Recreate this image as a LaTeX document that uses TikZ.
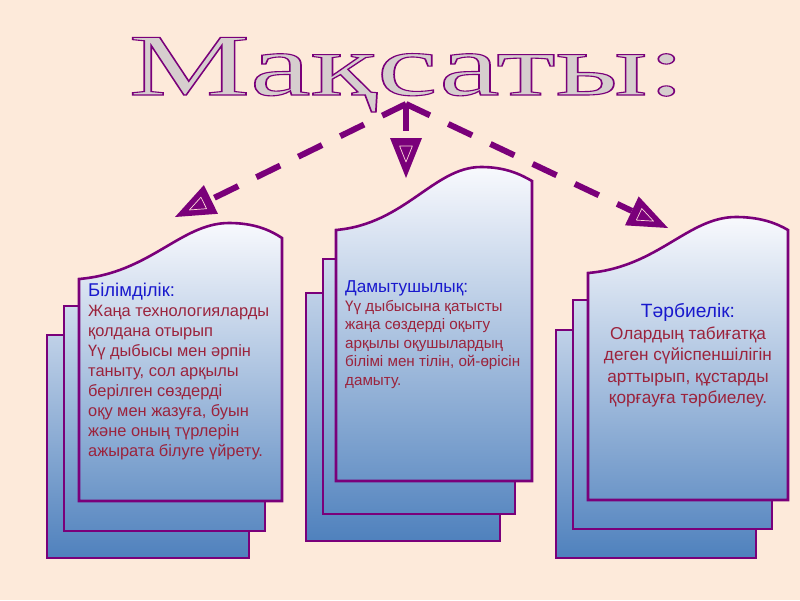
\documentclass[tikz,border=0pt]{standalone}
\usepackage{fontspec}
\usepackage{graphicx}
\setmainfont{Liberation Sans}
\newfontfamily\titlefont{Liberation Serif}
\usetikzlibrary{calc}
\definecolor{bg}{RGB}{253,234,218}
\definecolor{purp}{RGB}{122,0,122}
\definecolor{cardtop}{RGB}{248,249,253}
\definecolor{cardbot}{RGB}{79,129,189}
\definecolor{headblue}{RGB}{25,25,205}
\definecolor{bodyred}{RGB}{155,35,60}
\definecolor{titlefill}{RGB}{214,206,206}
\newcommand\outlinetext[1]{\special{pdf:literal direct 2 Tr 1.1 w 0.478 0 0.478 RG}#1\special{pdf:literal direct 0 Tr}}
\newcommand\hdr[2]{{\fontsize{#1}{10}\selectfont\textcolor{headblue}{#2}}}
\begin{document}
\begin{tikzpicture}[x=1pt,y=-1pt,
  cardline/.style={draw=purp,line width=2.6pt,line join=miter},
  dasharrow/.style={draw=purp,line width=6pt,dash pattern=on 26.5pt off 20.2pt},
  headfill/.style={fill=purp},
  headinner/.style={draw=pink!60!white,line width=0.7pt,line join=round},
  titlestyle/.style={inner sep=0pt,anchor=base,font=\titlefont\fontsize{88}{88}\selectfont},
  bodytext/.style={inner sep=0pt,text=bodyred},
  cardshade/.style={top color=cardtop,bottom color=cardbot}]
\fill[bg] (0,0) rectangle (800,600);
\useasboundingbox (0,0) rectangle (800,600);

% ---------- title ----------
\node[titlestyle,text=titlefill] (title) at (407,95) {\scalebox{1.55}[1]{\outlinetext{Мақсаты:}}};

% ---------- left stack ----------
\begin{scope}
  \clip (47,335) rectangle (249,558);
  \shade[cardshade] (47,223) rectangle (282,558);
\end{scope}
\draw[cardline] (47,335) rectangle (249,558);
\begin{scope}
  \clip (64,306) rectangle (265,531);
  \shade[cardshade] (47,223) rectangle (282,558);
\end{scope}
\draw[cardline] (64,306) rectangle (265,531);
\def\frontL{(79,501) -- (79,279) .. controls (150,273) and (181,223) .. (229,223)
  .. controls (254,223) and (270,230) .. (282,238) -- (282,501) -- cycle}
\begin{scope}
  \clip \frontL;
  \shade[cardshade] (47,223) rectangle (282,558);
\end{scope}
\draw[cardline] \frontL;

% ---------- middle stack ----------
\begin{scope}
  \clip (306,293) rectangle (500,541);
  \shade[cardshade] (306,167) rectangle (532,541);
\end{scope}
\draw[cardline] (306,293) rectangle (500,541);
\begin{scope}
  \clip (323,259) rectangle (515,514);
  \shade[cardshade] (306,167) rectangle (532,541);
\end{scope}
\draw[cardline] (323,259) rectangle (515,514);
\def\frontM{(336,481) -- (336,230) .. controls (405,224) and (434,167) .. (481,167)
  .. controls (505,167) and (520,174) .. (532,181) -- (532,481) -- cycle}
\begin{scope}
  \clip \frontM;
  \shade[cardshade] (306,167) rectangle (532,541);
\end{scope}
\draw[cardline] \frontM;

% ---------- right stack ----------
\begin{scope}
  \clip (556,330) rectangle (756,558);
  \shade[cardshade] (556,217) rectangle (788,558);
\end{scope}
\draw[cardline] (556,330) rectangle (756,558);
\begin{scope}
  \clip (573,300) rectangle (772,529);
  \shade[cardshade] (556,217) rectangle (788,558);
\end{scope}
\draw[cardline] (573,300) rectangle (772,529);
\def\frontR{(588,500) -- (588,273) .. controls (658,267) and (688,217) .. (736,217)
  .. controls (760,217) and (776,223) .. (788,230) -- (788,500) -- cycle}
\begin{scope}
  \clip \frontR;
  \shade[cardshade] (556,217) rectangle (788,558);
\end{scope}
\draw[cardline] \frontR;

% ---------- texts ----------
\node[bodytext,anchor=north west,align=left,font=\fontsize{16.4}{20}\selectfont] (textL) at (88,282.8)
  {\hdr{18.5}{Білімділік:}\\
   Жаңа технологияларды\\
   қолдана отырып\\
   Үү дыбысы мен әрпін\\
   таныту, сол арқылы\\
   берілген сөздерді\\
   оқу мен жазуға, буын\\
   және оның түрлерін\\
   ажырата білуге үйрету.};
\node[bodytext,anchor=north west,align=left,font=\fontsize{15.2}{18.6}\selectfont] (textM) at (345,280.5)
  {\hdr{17.2}{Дамытушылық:}\\
   Үү дыбысына қатысты\\
   жаңа сөздерді оқыту\\
   арқылы оқушылардың\\
   білімі мен тілін, ой-өрісін\\
   дамыту.};
\node[bodytext,anchor=north,align=center,font=\fontsize{17.2}{21.6}\selectfont] (textR) at (688,303.2)
  {\hdr{19.2}{Тәрбиелік:}\\
   Олардың табиғатқа\\
   деген сүйіспеншілігін\\
   арттырып, құстарды\\
   қорғауға тәрбиелеу.};

% ---------- arrows ----------
\coordinate (apex) at (406,104);
\coordinate (tipL) at (175,217);
\coordinate (tipM) at (406,178);
\coordinate (tipR) at (668,228);
\foreach \t in {tipL,tipM,tipR}{
  \coordinate (b\t) at ($(\t)!40pt!(apex)$);
  \draw[dasharrow] (apex) -- (b\t);
  \coordinate (c1\t) at ($(b\t)!16pt!90:(\t)$);
  \coordinate (c2\t) at ($(b\t)!16pt!-90:(\t)$);
  \fill[headfill] (\t) -- (c1\t) -- (c2\t) -- cycle;
  \coordinate (g\t) at ($1/3*(\t)+1/3*(c1\t)+1/3*(c2\t)$);
  \draw[headinner] ($(g\t)!0.4!(\t)$) -- ($(g\t)!0.4!(c1\t)$) -- ($(g\t)!0.4!(c2\t)$) -- cycle;
}
\end{tikzpicture}
\end{document}
